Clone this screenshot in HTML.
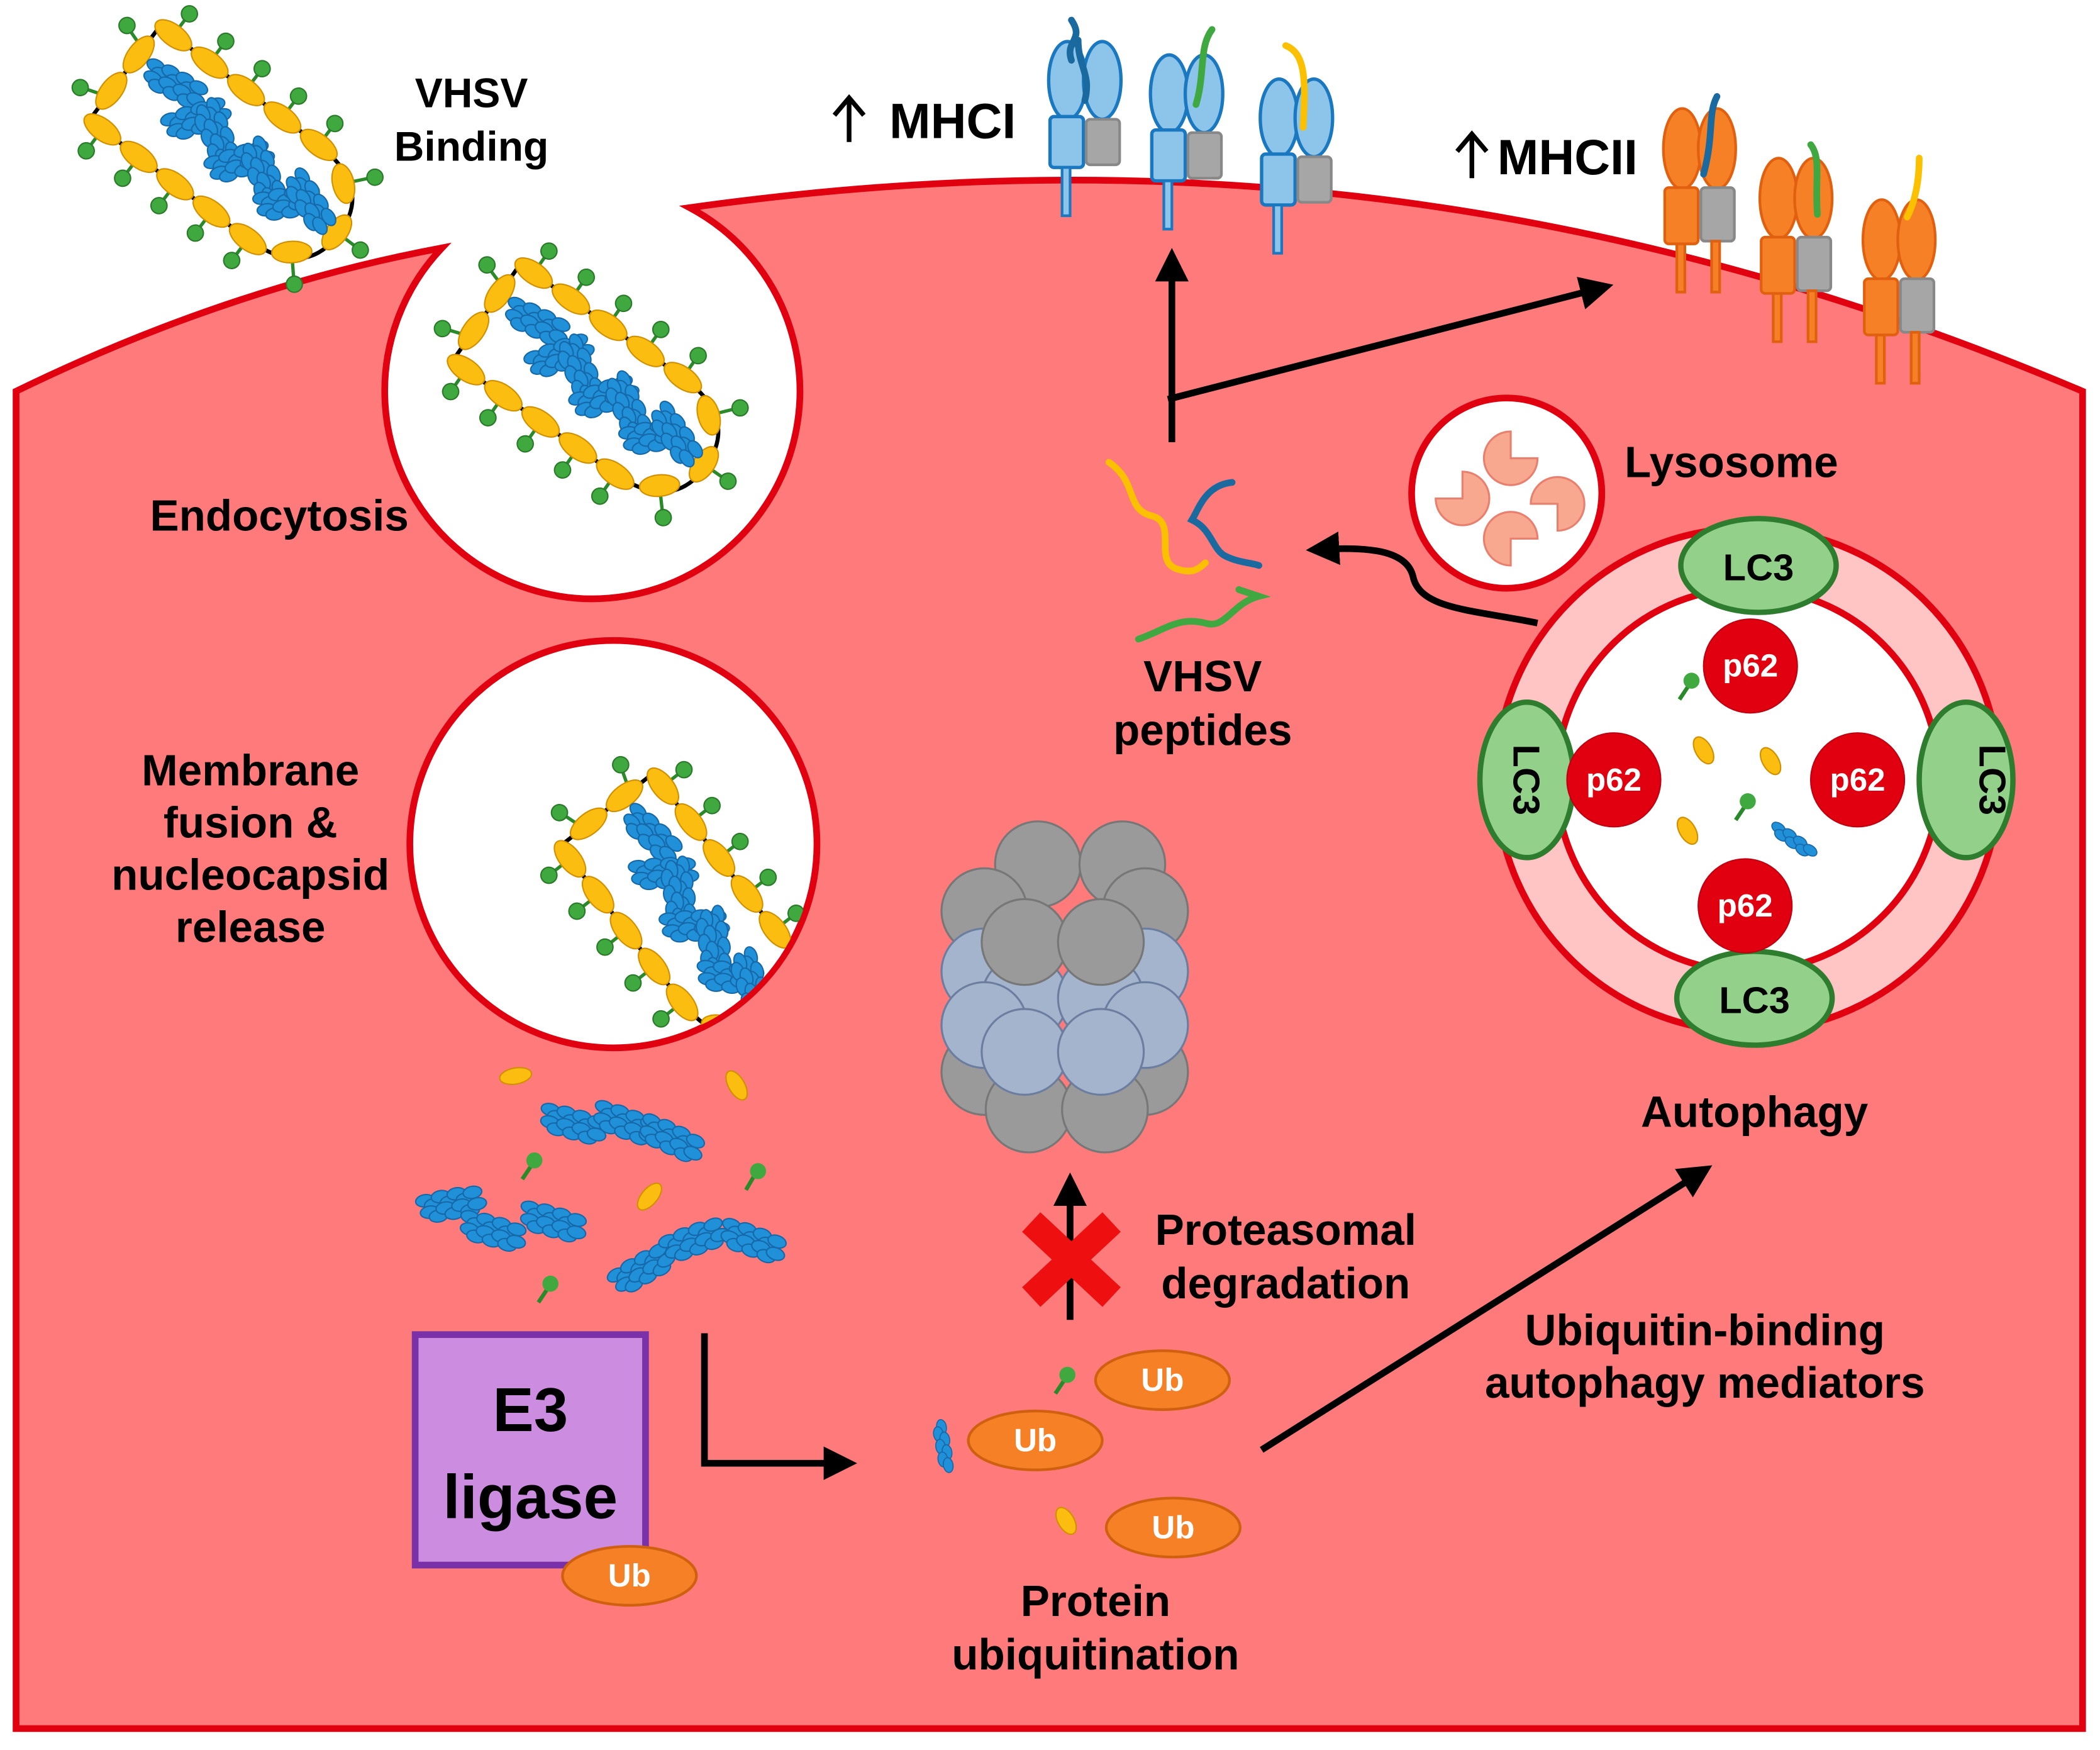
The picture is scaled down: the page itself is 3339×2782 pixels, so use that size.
<!DOCTYPE html>
<html><head><meta charset="utf-8"><style>html,body{margin:0;padding:0;background:#fff}svg{display:block}text{font-family:"Liberation Sans",Arial,sans-serif;font-weight:bold}</style></head><body>
<svg width="3339" height="2782" viewBox="0 0 1568 1306" preserveAspectRatio="none" xmlns="http://www.w3.org/2000/svg">
<defs>
<g id="nc">
<ellipse cx="0" cy="0" rx="7" ry="4.5" fill="#2090d8" stroke="#1668a8" stroke-width="1"/>
</g>
<g id="coil">
<use href="#nc" x="0" y="0"/><use href="#nc" x="6" y="4"/><use href="#nc" x="12" y="-1"/><use href="#nc" x="18" y="4"/><use href="#nc" x="24" y="-1"/><use href="#nc" x="30" y="4"/><use href="#nc" x="36" y="0"/>
</g>
<g id="blob">
<use href="#coil" x="0" y="-4"/><use href="#coil" x="2" y="5"/>
</g>
<g id="virus">
<path d="M-96,-44 L50,-44 Q104,-44 104,0 Q104,44 50,44 L-96,44 Z" fill="#fff" stroke="#000" stroke-width="3"/>
<g stroke="#2a8a2a" stroke-width="2.5">
<line x1="-84" y1="-44" x2="-84" y2="-62"/><line x1="-50" y1="-44" x2="-50" y2="-62"/><line x1="-16" y1="-44" x2="-16" y2="-62"/><line x1="18" y1="-44" x2="18" y2="-62"/><line x1="52" y1="-44" x2="52" y2="-62"/><line x1="84" y1="-32" x2="98" y2="-48"/>
<line x1="-84" y1="44" x2="-84" y2="62"/><line x1="-50" y1="44" x2="-50" y2="62"/><line x1="-16" y1="44" x2="-16" y2="62"/><line x1="18" y1="44" x2="18" y2="62"/><line x1="52" y1="44" x2="52" y2="62"/><line x1="84" y1="32" x2="98" y2="48"/>
<line x1="-96" y1="-22" x2="-114" y2="-28"/><line x1="-96" y1="22" x2="-114" y2="28"/><line x1="104" y1="0" x2="122" y2="0"/>
</g>
<g fill="#3fa83f" stroke="#2a7a2a" stroke-width="1">
<circle cx="-84" cy="-64" r="6"/><circle cx="-50" cy="-64" r="6"/><circle cx="-16" cy="-64" r="6"/><circle cx="18" cy="-64" r="6"/><circle cx="52" cy="-64" r="6"/><circle cx="100" cy="-50" r="6"/>
<circle cx="-84" cy="64" r="6"/><circle cx="-50" cy="64" r="6"/><circle cx="-16" cy="64" r="6"/><circle cx="18" cy="64" r="6"/><circle cx="52" cy="64" r="6"/><circle cx="100" cy="50" r="6"/>
<circle cx="-116" cy="-29" r="6"/><circle cx="-116" cy="29" r="6"/><circle cx="124" cy="0" r="6"/>
</g>
<g fill="#fbbd10" stroke="#d09000" stroke-width="1">
<ellipse cx="-84" cy="-44" rx="16" ry="8"/><ellipse cx="-50" cy="-44" rx="16" ry="8"/><ellipse cx="-16" cy="-44" rx="16" ry="8"/><ellipse cx="18" cy="-44" rx="16" ry="8"/><ellipse cx="52" cy="-44" rx="16" ry="8"/><ellipse cx="84" cy="-32" rx="15" ry="8" transform="rotate(40 84 -32)"/>
<ellipse cx="-84" cy="44" rx="16" ry="8"/><ellipse cx="-50" cy="44" rx="16" ry="8"/><ellipse cx="-16" cy="44" rx="16" ry="8"/><ellipse cx="18" cy="44" rx="16" ry="8"/><ellipse cx="52" cy="44" rx="16" ry="8"/><ellipse cx="84" cy="32" rx="15" ry="8" transform="rotate(-40 84 32)"/>
<ellipse cx="-96" cy="-17" rx="8" ry="16"/><ellipse cx="-96" cy="17" rx="8" ry="16"/><ellipse cx="102" cy="0" rx="8" ry="15"/>
</g>
<g>
<use href="#blob" transform="translate(-80,-14) rotate(-10)"/><use href="#blob" transform="translate(-45,10) rotate(-55)"/><use href="#blob" transform="translate(-30,-16) rotate(30)"/><use href="#blob" transform="translate(0,16) rotate(-55)"/><use href="#blob" transform="translate(15,-14) rotate(30)"/><use href="#blob" transform="translate(45,16) rotate(-45)"/><use href="#blob" transform="translate(55,-14) rotate(20)"/>
</g>
</g>
<g id="mhc1">
<ellipse cx="15" cy="33" rx="14" ry="29" fill="#8cc4ea" stroke="#1a78c0" stroke-width="2.5"/>
<ellipse cx="41" cy="33" rx="14" ry="29" fill="#8cc4ea" stroke="#1a78c0" stroke-width="2.5"/>
<rect x="2" y="60" width="25" height="38" rx="3" fill="#8cc4ea" stroke="#1a78c0" stroke-width="2.5"/>
<rect x="29" y="62" width="25" height="34" rx="3" fill="#a6a6a6" stroke="#888" stroke-width="2"/>
<rect x="11" y="98" width="6" height="36" fill="#8cc4ea" stroke="#1a78c0" stroke-width="2"/>
</g>
<g id="mhc2">
<ellipse cx="14" cy="33" rx="14" ry="30" fill="#f58025" stroke="#e06010" stroke-width="2"/>
<ellipse cx="40" cy="33" rx="14" ry="30" fill="#f58025" stroke="#e06010" stroke-width="2"/>
<rect x="1" y="62" width="25" height="42" rx="3" fill="#f58025" stroke="#e06010" stroke-width="2"/>
<rect x="28" y="62" width="25" height="40" rx="3" fill="#a6a6a6" stroke="#888" stroke-width="2"/>
<rect x="10" y="104" width="6" height="36" fill="#f58025" stroke="#e06010" stroke-width="2"/>
<rect x="36" y="102" width="6" height="38" fill="#f58025" stroke="#e06010" stroke-width="2"/>
</g>
<g id="pac"><path d="M0,0 L20,0 A20,20 0 1 1 0,-20 Z" fill="#f9a890" stroke="#e88070" stroke-width="1.5"/></g>
<marker id="ah" markerWidth="6" markerHeight="6" refX="3" refY="3" orient="auto" markerUnits="strokeWidth"><path d="M0,0.5 L5,3 L0,5.5 Z" fill="#000"/></marker>
<clipPath id="fc"><circle cx="458" cy="630" r="150"/></clipPath>
</defs>

<path d="M12,292 Q170,215 330,185 A155,155 0 1 0 515,155 C800,115 1150,120 1555,292 L1555,1290 L12,1290 Z" fill="#ff7b7b" stroke="#e00010" stroke-width="5"/>

<use href="#virus" transform="translate(170,112) rotate(37)"/>
<use href="#virus" transform="translate(442,288) rotate(35)"/>

<circle cx="458" cy="630" r="152" fill="#fff" stroke="#e00010" stroke-width="5"/>
<g clip-path="url(#fc)"><use href="#virus" transform="translate(512,680) rotate(52)"/></g>

<use href="#mhc1" x="782" y="27"/>
<path d="M800,45 C795,30 810,30 800,15 M805,30 C805,50 815,55 810,75" fill="none" stroke="#1a6aa0" stroke-width="5" stroke-linecap="round"/>
<use href="#mhc1" x="858" y="37"/>
<path d="M905,22 C895,35 900,55 893,78" fill="none" stroke="#40a840" stroke-width="5" stroke-linecap="round"/>
<use href="#mhc1" x="940" y="55"/>
<path d="M960,34 C975,40 975,60 973,95" fill="none" stroke="#fbc000" stroke-width="5" stroke-linecap="round"/>
<use href="#mhc2" x="1242" y="78"/>
<path d="M1282,72 C1275,85 1280,100 1272,130" fill="none" stroke="#1a6aa0" stroke-width="5" stroke-linecap="round"/>
<use href="#mhc2" x="1314" y="115"/>
<path d="M1352,108 C1360,118 1355,135 1357,160" fill="none" stroke="#40a840" stroke-width="5" stroke-linecap="round"/>
<use href="#mhc2" x="1391" y="146"/>
<path d="M1433,118 C1433,135 1430,150 1424,162" fill="none" stroke="#fbc000" stroke-width="5" stroke-linecap="round"/>

<text x="352" y="80" font-size="31" text-anchor="middle">VHSV</text>
<text x="352" y="120" font-size="31" text-anchor="middle">Binding</text>
<g stroke="#000" stroke-width="3.5" fill="none"><path d="M634,106 L634,74 M623,86 L634,73 L645,86"/><path d="M1099,133 L1099,101 M1088,113 L1099,100 L1110,113"/></g>
<text x="664" y="103" font-size="37">MHCI</text>
<text x="1118" y="130" font-size="37">MHCII</text>
<text x="112" y="396" font-size="32.5">Endocytosis</text>
<text x="187" y="586" font-size="32.5" text-anchor="middle">Membrane</text>
<text x="187" y="625" font-size="32.5" text-anchor="middle">fusion &amp;</text>
<text x="187" y="664" font-size="32.5" text-anchor="middle">nucleocapsid</text>
<text x="187" y="703" font-size="32.5" text-anchor="middle">release</text>
<text x="1213" y="356" font-size="32.5">Lysosome</text>
<text x="898" y="516" font-size="32.5" text-anchor="middle">VHSV</text>
<text x="898" y="556" font-size="32.5" text-anchor="middle">peptides</text>
<text x="1310" y="841" font-size="32.5" text-anchor="middle">Autophagy</text>
<text x="960" y="929" font-size="32.5" text-anchor="middle">Proteasomal</text>
<text x="960" y="969" font-size="32.5" text-anchor="middle">degradation</text>
<text x="1273" y="1004" font-size="32.5" text-anchor="middle">Ubiquitin-binding</text>
<text x="1273" y="1043" font-size="32.5" text-anchor="middle">autophagy mediators</text>
<text x="818" y="1206" font-size="32.5" text-anchor="middle">Protein</text>
<text x="818" y="1246" font-size="32.5" text-anchor="middle">ubiquitination</text>

<g stroke="#000" stroke-width="5" fill="none">
<line x1="875" y1="330" x2="875" y2="195" marker-end="url(#ah)"/>
<line x1="872" y1="298" x2="1195" y2="215" marker-end="url(#ah)"/>
<path d="M1148,465 C1100,455 1060,455 1055,430 C1050,410 1020,408 985,410" marker-end="url(#ah)"/>
<line x1="799" y1="985" x2="799" y2="885" marker-end="url(#ah)"/>
<path d="M526,995 L526,1092 L630,1092" marker-end="url(#ah)"/>
<line x1="942" y1="1082" x2="1270" y2="875" marker-end="url(#ah)"/>
</g>

<path d="M828,345 C850,360 840,380 860,385 C880,390 860,420 880,425 C890,428 895,425 900,420" fill="none" stroke="#fbc000" stroke-width="5" stroke-linecap="round"/>
<path d="M920,360 C900,362 895,380 890,388 C905,395 905,410 915,415 C925,420 935,420 940,422" fill="none" stroke="#1a6aa0" stroke-width="5" stroke-linecap="round"/>
<path d="M850,477 C870,470 880,460 900,465 C915,470 920,450 940,445 L925,440" fill="none" stroke="#40a840" stroke-width="5" stroke-linecap="round"/>

<circle cx="1125" cy="368" r="71" fill="#fff" stroke="#e00010" stroke-width="5"/>
<use href="#pac" transform="translate(1128,342) rotate(0)"/>
<use href="#pac" transform="translate(1092,372) rotate(-90)"/>
<use href="#pac" transform="translate(1163,376) rotate(180)"/>
<use href="#pac" transform="translate(1128,402) rotate(90)"/>

<circle cx="1305" cy="582" r="188" fill="#ffc4c4" stroke="#e00010" stroke-width="5"/>
<circle cx="1305" cy="582" r="143" fill="#fff" stroke="#e00010" stroke-width="5"/>
<g fill="#93d08a" stroke="#2e7d2e" stroke-width="4">
<ellipse cx="1313" cy="422" rx="58" ry="35"/>
<ellipse cx="1310" cy="745" rx="58" ry="35"/>
<ellipse cx="1140" cy="582" rx="35" ry="58"/>
<ellipse cx="1468" cy="582" rx="35" ry="58"/>
</g>
<text x="1313" y="433" font-size="28" text-anchor="middle">LC3</text>
<text x="1310" y="756" font-size="28" text-anchor="middle">LC3</text>
<text transform="translate(1130,582) rotate(90)" font-size="28" text-anchor="middle">LC3</text>
<text transform="translate(1478,582) rotate(90)" font-size="28" text-anchor="middle">LC3</text>
<g fill="#e00010" stroke="#c00010" stroke-width="1">
<circle cx="1307" cy="497" r="35"/><circle cx="1205" cy="582" r="35"/><circle cx="1387" cy="582" r="35"/><circle cx="1303" cy="676" r="35"/>
</g>
<g fill="#fff" font-size="24" text-anchor="middle">
<text x="1307" y="505">p62</text><text x="1205" y="590">p62</text><text x="1387" y="590">p62</text><text x="1303" y="684">p62</text>
</g>
<g fill="#fbbd10" stroke="#d09000">
<ellipse cx="1272" cy="560" rx="6" ry="11" transform="rotate(-30 1272 560)"/><ellipse cx="1322" cy="568" rx="6" ry="11" transform="rotate(-30 1322 568)"/><ellipse cx="1260" cy="620" rx="6" ry="11" transform="rotate(-30 1260 620)"/>
</g>
<g stroke="#2a8a2a" stroke-width="3"><line x1="1254" y1="522" x2="1262" y2="510"/><line x1="1296" y1="612" x2="1304" y2="600"/></g>
<g fill="#3fa83f"><circle cx="1263" cy="508" r="6"/><circle cx="1305" cy="598" r="6"/></g>
<use href="#coil" transform="translate(1328,618) rotate(35) scale(0.8)"/>

<g fill="#9a9a9a" stroke="#777" stroke-width="1.5">
<circle cx="775" cy="645" r="32"/><circle cx="838" cy="645" r="32"/><circle cx="735" cy="680" r="32"/><circle cx="855" cy="680" r="32"/>
</g>
<g fill="#9a9a9a" stroke="#777" stroke-width="1.5">
<circle cx="735" cy="800" r="32"/><circle cx="855" cy="800" r="32"/><circle cx="768" cy="828" r="32"/><circle cx="825" cy="828" r="32"/>
</g>
<g fill="#a4b4cc" stroke="#6c7ea0" stroke-width="1.5">
<circle cx="735" cy="725" r="32"/><circle cx="855" cy="725" r="32"/><circle cx="765" cy="745" r="32"/><circle cx="822" cy="745" r="32"/>
<circle cx="735" cy="765" r="32"/><circle cx="855" cy="765" r="32"/><circle cx="765" cy="785" r="32"/><circle cx="822" cy="785" r="32"/>
</g>
<g fill="#9a9a9a" stroke="#777" stroke-width="1.5"><circle cx="765" cy="703" r="32"/><circle cx="822" cy="703" r="32"/></g>

<g stroke="#ee1010" stroke-width="20" stroke-linecap="butt"><line x1="770" y1="912" x2="830" y2="968"/><line x1="830" y1="912" x2="770" y2="968"/></g>

<g>
<use href="#blob" transform="translate(410,832) rotate(15)"/><use href="#blob" transform="translate(450,830) rotate(20)"/><use href="#blob" transform="translate(485,840) rotate(25)"/>
<use href="#blob" transform="translate(318,900) rotate(-10)"/><use href="#blob" transform="translate(350,912) rotate(15)"/><use href="#blob" transform="translate(395,905) rotate(15)"/>
<use href="#blob" transform="translate(462,955) rotate(-30)"/><use href="#blob" transform="translate(500,930) rotate(-20)"/><use href="#blob" transform="translate(545,918) rotate(20)"/>
<use href="#coil" transform="translate(703,1065) rotate(80) scale(0.8)"/>
</g>
<g fill="#fbbd10" stroke="#d09000">
<ellipse cx="385" cy="803" rx="12" ry="6" transform="rotate(-10 385 803)"/><ellipse cx="550" cy="810" rx="6" ry="12" transform="rotate(-30 550 810)"/><ellipse cx="485" cy="893" rx="6" ry="12" transform="rotate(40 485 893)"/><ellipse cx="796" cy="1135" rx="6" ry="11" transform="rotate(-30 796 1135)"/>
</g>
<g stroke="#2a8a2a" stroke-width="3"><line x1="390" y1="880" x2="398" y2="868"/><line x1="557" y1="888" x2="564" y2="876"/><line x1="402" y1="972" x2="410" y2="960"/><line x1="788" y1="1040" x2="796" y2="1028"/></g>
<g fill="#3fa83f"><circle cx="399" cy="866" r="6"/><circle cx="566" cy="874" r="6"/><circle cx="411" cy="958" r="6"/><circle cx="797" cy="1026" r="6"/></g>

<rect x="310" y="996" width="172" height="172" fill="#cc8ce0" stroke="#7a30a8" stroke-width="5"/>
<text x="396" y="1068" font-size="46" text-anchor="middle">E3</text>
<text x="396" y="1133" font-size="46" text-anchor="middle">ligase</text>

<g fill="#f58025" stroke="#d06010" stroke-width="2">
<ellipse cx="470" cy="1176" rx="50" ry="22"/><ellipse cx="868" cy="1030" rx="50" ry="22"/><ellipse cx="773" cy="1075" rx="50" ry="22"/><ellipse cx="876" cy="1140" rx="50" ry="22"/>
</g>
<g fill="#fff" font-size="24" text-anchor="middle">
<text x="470" y="1184">Ub</text><text x="868" y="1038">Ub</text><text x="773" y="1083">Ub</text><text x="876" y="1148">Ub</text>
</g>
</svg>
</body></html>
